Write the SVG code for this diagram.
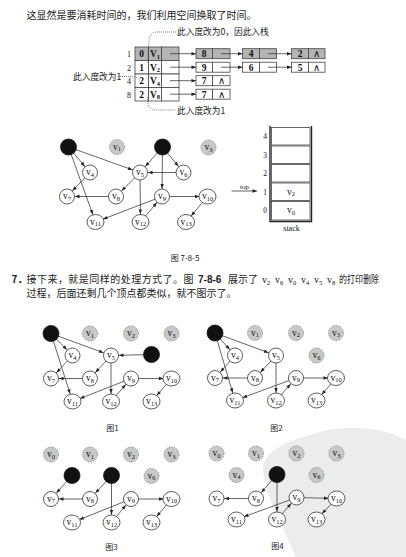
<svg xmlns="http://www.w3.org/2000/svg" width="406" height="557" viewBox="0 0 406 557">
<style>
.cjk{font-family:"Noto Sans CJK SC","Noto Sans CJK TC",sans-serif;fill:#222}
.ser{font-family:"Liberation Serif",serif;fill:#111}
.n{fill:#fff;stroke:#333;stroke-width:0.8}
.b{fill:#111;stroke:#111;stroke-width:0.8}
.g{fill:#c8c8c8;stroke:#777;stroke-width:0.7;stroke-dasharray:1.5 1}
.lbl{font-family:"Liberation Serif",serif;font-size:9.5px;text-anchor:middle;fill:#111}
.sub{font-size:6.5px}
.e{stroke:#333;stroke-width:0.75;fill:none;marker-end:url(#ah)}
.p{stroke:#333;stroke-width:0.75;fill:none;marker-end:url(#at)}
.dot{stroke:#444;stroke-width:0.7;fill:none;stroke-dasharray:1 1}
.cw{fill:#fff;stroke:#444;stroke-width:0.8}
.cg{fill:#b4b4b4;stroke:#444;stroke-width:0.8}
.tt{font-family:"Liberation Serif",serif;font-size:9.5px;text-anchor:middle;fill:#111;font-weight:bold}
.ann{font-family:"Noto Sans CJK SC",sans-serif;font-size:8.7px;fill:#222}
.cap{font-family:"Noto Sans CJK SC",sans-serif;font-size:8px;fill:#222;text-anchor:middle}
</style>
<defs>
<marker id="ah" markerUnits="userSpaceOnUse" markerWidth="10" markerHeight="10" refX="8" refY="0" orient="auto" overflow="visible"><path d="M-4.5,-1.7 L0,0 L-4.5,1.7 Z" fill="#222"/></marker>
<marker id="at" markerUnits="userSpaceOnUse" markerWidth="10" markerHeight="10" refX="0" refY="0" orient="auto" overflow="visible"><path d="M-4.5,-1.7 L0,0 L-4.5,1.7 Z" fill="#222"/></marker>
</defs>
<rect width="406" height="557" fill="#fff"/>
<path d="M263,470 C262,450 290,440 320,432 C350,424 385,428 406,440 L406,557 L296,557 C285,530 266,500 263,470 Z" fill="#ececec"/>

<!-- texts -->
<text class="cjk" x="26.5" y="18.8" font-size="10">这显然是要消耗时间的，我们利用空间换取了时间。</text>

<!-- adjacency list -->
<g id="adjlist">
<g id="row1"><rect class="cg" x="135" y="47" width="13.5" height="13.5"/><rect class="cg" x="148.5" y="47" width="13" height="13.5"/><rect class="cg" x="161.5" y="47" width="17.5" height="13.5"/>
<text class="tt" x="141.7" y="57">0</text><text class="tt" x="155" y="57">V<tspan class="sub" dy="1.5">1</tspan></text><text class="ser" x="131" y="57" font-size="8" text-anchor="end">1</text></g>
<g id="row2"><rect class="cw" x="135" y="60.5" width="13.5" height="13.5"/><rect class="cw" x="148.5" y="60.5" width="13" height="13.5"/><rect class="cw" x="161.5" y="60.5" width="17.5" height="13.5"/>
<text class="tt" x="141.7" y="70.5">1</text><text class="tt" x="155" y="70.5">V<tspan class="sub" dy="1.5">2</tspan></text><text class="ser" x="131" y="70.5" font-size="8" text-anchor="end">2</text></g>
<g id="row3"><rect class="cw" x="135" y="74" width="13.5" height="13.5"/><rect class="cw" x="148.5" y="74" width="13" height="13.5"/><rect class="cw" x="161.5" y="74" width="17.5" height="13.5"/>
<text class="tt" x="141.7" y="84">2</text><text class="tt" x="155" y="84">V<tspan class="sub" dy="1.5">4</tspan></text><text class="ser" x="131" y="84" font-size="8" text-anchor="end">4</text></g>
<g id="row4"><rect class="cw" x="135" y="87.5" width="13.5" height="13.5"/><rect class="cw" x="148.5" y="87.5" width="13" height="13.5"/><rect class="cw" x="161.5" y="87.5" width="17.5" height="13.5"/>
<text class="tt" x="141.7" y="97.5">2</text><text class="tt" x="155" y="97.5">V<tspan class="sub" dy="1.5">8</tspan></text><text class="ser" x="131" y="97.5" font-size="8" text-anchor="end">8</text></g>

<g id="ln-1-8"><rect class="cg" x="196" y="48.7" width="16.5" height="10"/><rect class="cg" x="212.5" y="48.7" width="17.5" height="10"/><text class="tt" x="204.2" y="57">8</text></g>
<g id="ln-1-4"><rect class="cg" x="242.5" y="48.7" width="17" height="10"/><rect class="cg" x="259.5" y="48.7" width="17" height="10"/><text class="tt" x="251" y="57">4</text></g>
<g id="ln-1-2"><rect class="cg" x="291.5" y="48.7" width="17" height="10"/><rect class="cg" x="308.5" y="48.7" width="16.5" height="10"/><text class="tt" x="300" y="57">2</text><text class="ser" x="316.7" y="57" font-size="9.5" text-anchor="middle">∧</text></g>
<g id="ln-2-9"><rect class="cw" x="196" y="62.2" width="16.5" height="10"/><rect class="cw" x="212.5" y="62.2" width="17.5" height="10"/><text class="tt" x="204.2" y="70.5">9</text></g>
<g id="ln-2-6"><rect class="cw" x="242.5" y="62.2" width="17" height="10"/><rect class="cw" x="259.5" y="62.2" width="17" height="10"/><text class="tt" x="251" y="70.5">6</text></g>
<g id="ln-2-5"><rect class="cw" x="291.5" y="62.2" width="17" height="10"/><rect class="cw" x="308.5" y="62.2" width="16.5" height="10"/><text class="tt" x="300" y="70.5">5</text><text class="ser" x="316.7" y="70.5" font-size="9.5" text-anchor="middle">∧</text></g>
<g id="ln-4-7"><rect class="cw" x="196" y="75.7" width="16.5" height="10"/><rect class="cw" x="212.5" y="75.7" width="17.5" height="10"/><text class="tt" x="204.2" y="84">7</text><text class="ser" x="221.2" y="84" font-size="9.5" text-anchor="middle">∧</text></g>
<g id="ln-8-7"><rect class="cw" x="196" y="89.2" width="16.5" height="10"/><rect class="cw" x="212.5" y="89.2" width="17.5" height="10"/><text class="tt" x="204.2" y="97.5">7</text><text class="ser" x="221.2" y="97.5" font-size="9.5" text-anchor="middle">∧</text></g>

<g id="annotations">
<path class="dot" d="M176,32 L158,32 Q149,32 149,41 L147.5,63"/>
<text class="ann" x="177" y="35.3">此入度改为0，因此入栈</text>
<path class="dot" d="M118,76.5 L132,76.5 Q138,77 140,81"/>
<text class="ann" x="73" y="80.3">此入度改为1</text>
<path class="dot" d="M147.5,97 L148,104 Q149,110 157,110 L176,110"/>
<text class="ann" x="177" y="113.8">此入度改为1</text>
</g>
</g>

<!-- stack -->
<g id="stack">
<rect class="cw" x="271.5" y="127.5" width="38.5" height="17.5"/>
<rect class="cw" x="271.5" y="146" width="38.5" height="17.5"/>
<rect class="cw" x="271.5" y="164.5" width="38.5" height="17.5"/>
<rect class="cw" x="271.5" y="183" width="38.5" height="17.5"/>
<rect class="cw" x="271.5" y="201.5" width="38.5" height="18.5"/>
<path d="M270,126 L270,221.5 L311.5,221.5 L311.5,126" fill="none" stroke="#222" stroke-width="1.4"/>
<text class="ser" font-size="7.5" text-anchor="middle" x="265" y="139">4</text>
<text class="ser" font-size="7.5" text-anchor="middle" x="265" y="157.5">3</text>
<text class="ser" font-size="7.5" text-anchor="middle" x="265" y="176">2</text>
<text class="ser" font-size="7.5" text-anchor="middle" x="265" y="194.5">1</text>
<text class="ser" font-size="7.5" text-anchor="middle" x="265" y="213">0</text>
<text class="lbl" x="291" y="194.5">v<tspan class="sub" dy="1.8">2</tspan></text>
<text class="lbl" x="291" y="213">v<tspan class="sub" dy="1.8">0</tspan></text>
<text class="ser" font-size="7" text-anchor="middle" x="244.5" y="188.5">top</text>
<text class="ser" font-size="8" text-anchor="middle" x="291.5" y="231">stack</text>
</g>

<text class="cap" x="185" y="261">图 7-8-5</text>
<text class="cjk" x="11.5" y="283" font-size="10" font-weight="bold">7．</text>
<text class="cjk" x="26.5" y="283" font-size="10" textLength="167" lengthAdjust="spacing">接下来，就是同样的处理方式了。图</text>
<text x="198" y="283" font-family="Liberation Sans,sans-serif" font-size="10" font-weight="bold" fill="#222">7-8-6</text>
<text class="cjk" x="228" y="283" font-size="10">展示了</text>
<text class="ser" x="262" y="283" font-size="10">v<tspan font-size="6.5" dy="1.5">2</tspan></text>
<text class="ser" x="275" y="283" font-size="10">v<tspan font-size="6.5" dy="1.5">6</tspan></text>
<text class="ser" x="288" y="283" font-size="10">v<tspan font-size="6.5" dy="1.5">0</tspan></text>
<text class="ser" x="301" y="283" font-size="10">v<tspan font-size="6.5" dy="1.5">4</tspan></text>
<text class="ser" x="314" y="283" font-size="10">v<tspan font-size="6.5" dy="1.5">5</tspan></text>
<text class="ser" x="327" y="283" font-size="10">v<tspan font-size="6.5" dy="1.5">8</tspan></text>
<text class="cjk" x="339" y="283" font-size="10" textLength="40" lengthAdjust="spacingAndGlyphs">的打印删除</text>
<text class="cjk" x="26.5" y="297" font-size="10">过程，后面还剩几个顶点都类似，就不图示了。</text>
<text class="cap" x="112.5" y="431.3">图1</text>
<text class="cap" x="276.5" y="430.5">图2</text>
<text class="cap" x="111.5" y="549.7">图3</text>
<text class="cap" x="277.5" y="549">图4</text>

<!-- connectors -->
<g id="connectors">
<g id="c-list">
<path class="p" d="M170,53.7 L196,53.7"/><path class="p" d="M221,53.7 L242.5,53.7"/><path class="p" d="M268,53.7 L291.5,53.7"/>
<path class="p" d="M170,67.2 L196,67.2"/><path class="p" d="M221,67.2 L242.5,67.2"/><path class="p" d="M268,67.2 L291.5,67.2"/>
<path class="p" d="M170,80.7 L196,80.7"/>
<path class="p" d="M170,94.2 L196,94.2"/>
<path class="p" d="M231.5,191 L257,191"/>
</g>
<g id="c-785">
<path class="e" d="M68.5,147 L90,172.5"/>
<path class="e" d="M68.5,147 L140,172.5"/>
<path class="e" d="M68.5,147 L95.5,222"/>
<path class="e" d="M90,172.5 L67,196.5"/>
<path class="e" d="M116,196.5 L67,196.5"/>
<path class="e" d="M140,172.5 L116,196.5"/>
<path class="e" d="M140,172.5 L140.5,222"/>
<path class="e" d="M162.5,147 L140,172.5"/>
<path class="e" d="M162.5,147 L183.5,172.5"/>
<path class="e" d="M162.5,147 L162,196.5"/>
<path class="e" d="M183.5,172.5 L140,172.5"/>
<path class="e" d="M162,196.5 L95.5,222"/>
<path class="e" d="M162,196.5 L207.5,196.5"/>
<path class="e" d="M140.5,222 L162,196.5"/>
<path class="e" d="M207.5,196.5 L186,222"/>
</g>
<g id="c-f1">
<path class="e" d="M51,333.5 L72.5,355.5"/>
<path class="e" d="M51,333.5 L111,355.5"/>
<path class="e" d="M51,333.5 L72.5,401.5"/>
<path class="e" d="M72.5,355.5 L51,378.5"/>
<path class="e" d="M90,378.5 L51,378.5"/>
<path class="e" d="M111,355.5 L90,378.5"/>
<path class="e" d="M111,355.5 L111,401.5"/>
<path class="e" d="M151.5,354.5 L111,355.5"/>
<path class="e" d="M131,378.5 L72.5,401.5"/>
<path class="e" d="M131,378.5 L171.5,378.5"/>
<path class="e" d="M111,401.5 L131,378.5"/>
<path class="e" d="M171.5,378.5 L151.5,401.5"/>
</g>
<g id="c-f2">
<path class="e" d="M215,333 L235,355.5"/>
<path class="e" d="M215,333 L276,355.5"/>
<path class="e" d="M215,333 L235,400.5"/>
<path class="e" d="M235,355.5 L215,378"/>
<path class="e" d="M255,378 L215,378"/>
<path class="e" d="M276,355.5 L255,378"/>
<path class="e" d="M276,355.5 L276,400.5"/>
<path class="e" d="M296,378 L235,400.5"/>
<path class="e" d="M296,378 L336,378"/>
<path class="e" d="M276,400.5 L296,378"/>
<path class="e" d="M336,378 L316.5,400.5"/>
</g>
<g id="c-f3">
<path class="e" d="M72,475.5 L51,499"/>
<path class="e" d="M111.5,475.5 L90,499"/>
<path class="e" d="M111.5,475.5 L111.5,522.5"/>
<path class="e" d="M90,499 L51,499"/>
<path class="e" d="M131,499 L72,522.5"/>
<path class="e" d="M131,499 L171.5,499"/>
<path class="e" d="M111.5,522.5 L131,499"/>
<path class="e" d="M171.5,499 L151.5,522.5"/>
</g>
<g id="c-f4">
<path class="e" d="M277,474.5 L256,498.5"/>
<path class="e" d="M277,474.5 L277,519.5"/>
<path class="e" d="M256,498.5 L216.5,498.5"/>
<path class="e" d="M296.5,497.5 L236.5,519.5"/>
<path class="e" d="M296.5,497.5 L336.5,498.5"/>
<path class="e" d="M277,519.5 L296.5,497.5"/>
<path class="e" d="M336.5,498.5 L316.5,519.5"/>
</g>
</g>

<!-- fig 7-8-5 nodes -->
<g id="fig785">
<g id="a-v0"><circle class="b" cx="68.5" cy="147" r="8"/></g>
<g id="a-v1"><circle class="g" cx="117" cy="147" r="7.5"/><text class="lbl" x="117" y="149.5">v<tspan class="sub" dy="1.8">1</tspan></text></g>
<g id="a-v2"><circle class="b" cx="162.5" cy="147" r="8"/></g>
<g id="a-v3"><circle class="g" cx="208.5" cy="147.5" r="7.5"/><text class="lbl" x="208.5" y="150">v<tspan class="sub" dy="1.8">3</tspan></text></g>
<g id="a-v4"><circle class="n" cx="90" cy="172.5" r="7.5"/><text class="lbl" x="90" y="175">v<tspan class="sub" dy="1.8">4</tspan></text></g>
<g id="a-v5"><circle class="n" cx="140" cy="172.5" r="7.5"/><text class="lbl" x="140" y="175">v<tspan class="sub" dy="1.8">5</tspan></text></g>
<g id="a-v6"><circle class="n" cx="183.5" cy="172.5" r="7.5"/><text class="lbl" x="183.5" y="175">v<tspan class="sub" dy="1.8">6</tspan></text></g>
<g id="a-v7"><circle class="n" cx="67" cy="196.5" r="7.5"/><text class="lbl" x="67" y="199">v<tspan class="sub" dy="1.8">7</tspan></text></g>
<g id="a-v8"><circle class="n" cx="116" cy="196.5" r="7.5"/><text class="lbl" x="116" y="199">v<tspan class="sub" dy="1.8">8</tspan></text></g>
<g id="a-v9"><circle class="n" cx="162" cy="196.5" r="7.5"/><text class="lbl" x="162" y="199">v<tspan class="sub" dy="1.8">9</tspan></text></g>
<g id="a-v10"><ellipse class="n" cx="207.5" cy="196.5" rx="8.5" ry="7.5"/><text class="lbl" x="207.5" y="199">v<tspan class="sub" dy="1.8">10</tspan></text></g>
<g id="a-v11"><ellipse class="n" cx="95.5" cy="222" rx="8.5" ry="7.5"/><text class="lbl" x="95.5" y="224.5">v<tspan class="sub" dy="1.8">11</tspan></text></g>
<g id="a-v12"><ellipse class="n" cx="140.5" cy="222" rx="8.5" ry="7.5"/><text class="lbl" x="140.5" y="224.5">v<tspan class="sub" dy="1.8">12</tspan></text></g>
<g id="a-v13"><ellipse class="n" cx="186" cy="222" rx="8.5" ry="7.5"/><text class="lbl" x="186" y="224.5">v<tspan class="sub" dy="1.8">13</tspan></text></g>
</g>

<!-- fig 1 -->
<g id="fig1">
<g id="b-v0"><circle class="b" cx="51" cy="333.5" r="8"/></g>
<g id="b-v1"><circle class="g" cx="90" cy="333.5" r="7.5"/><text class="lbl" x="90" y="336">v<tspan class="sub" dy="1.8">1</tspan></text></g>
<g id="b-v2"><circle class="g" cx="131" cy="333.5" r="7.5"/><text class="lbl" x="131" y="336">v<tspan class="sub" dy="1.8">2</tspan></text></g>
<g id="b-v3"><circle class="g" cx="171.5" cy="333.5" r="7.5"/><text class="lbl" x="171.5" y="336">v<tspan class="sub" dy="1.8">3</tspan></text></g>
<g id="b-v4"><circle class="n" cx="72.5" cy="355.5" r="7.5"/><text class="lbl" x="72.5" y="358">v<tspan class="sub" dy="1.8">4</tspan></text></g>
<g id="b-v5"><circle class="n" cx="111" cy="355.5" r="7.5"/><text class="lbl" x="111" y="358">v<tspan class="sub" dy="1.8">5</tspan></text></g>
<g id="b-v6"><circle class="b" cx="151.5" cy="354.5" r="8"/></g>
<g id="b-v7"><circle class="n" cx="51" cy="378.5" r="7.5"/><text class="lbl" x="51" y="381">v<tspan class="sub" dy="1.8">7</tspan></text></g>
<g id="b-v8"><circle class="n" cx="90" cy="378.5" r="7.5"/><text class="lbl" x="90" y="381">v<tspan class="sub" dy="1.8">8</tspan></text></g>
<g id="b-v9"><circle class="n" cx="131" cy="378.5" r="7.5"/><text class="lbl" x="131" y="381">v<tspan class="sub" dy="1.8">9</tspan></text></g>
<g id="b-v10"><ellipse class="n" cx="171.5" cy="378.5" rx="8.5" ry="7.5"/><text class="lbl" x="171.5" y="381">v<tspan class="sub" dy="1.8">10</tspan></text></g>
<g id="b-v11"><ellipse class="n" cx="72.5" cy="401.5" rx="8.5" ry="7.5"/><text class="lbl" x="72.5" y="404">v<tspan class="sub" dy="1.8">11</tspan></text></g>
<g id="b-v12"><ellipse class="n" cx="111" cy="401.5" rx="8.5" ry="7.5"/><text class="lbl" x="111" y="404">v<tspan class="sub" dy="1.8">12</tspan></text></g>
<g id="b-v13"><ellipse class="n" cx="151.5" cy="401.5" rx="8.5" ry="7.5"/><text class="lbl" x="151.5" y="404">v<tspan class="sub" dy="1.8">13</tspan></text></g>
</g>

<!-- fig 2 -->
<g id="fig2">
<g id="c-v0"><circle class="b" cx="215" cy="333" r="8"/></g>
<g id="c-v1"><circle class="g" cx="255" cy="333" r="7.5"/><text class="lbl" x="255" y="335.5">v<tspan class="sub" dy="1.8">1</tspan></text></g>
<g id="c-v2"><circle class="g" cx="296" cy="333" r="7.5"/><text class="lbl" x="296" y="335.5">v<tspan class="sub" dy="1.8">2</tspan></text></g>
<g id="c-v3"><circle class="g" cx="336" cy="333" r="7.5"/><text class="lbl" x="336" y="335.5">v<tspan class="sub" dy="1.8">3</tspan></text></g>
<g id="c-v4"><circle class="n" cx="235" cy="355.5" r="7.5"/><text class="lbl" x="235" y="358">v<tspan class="sub" dy="1.8">4</tspan></text></g>
<g id="c-v5"><circle class="n" cx="276" cy="355.5" r="7.5"/><text class="lbl" x="276" y="358">v<tspan class="sub" dy="1.8">5</tspan></text></g>
<g id="c-v6"><circle class="g" cx="316.5" cy="355.5" r="7.5"/><text class="lbl" x="316.5" y="358">v<tspan class="sub" dy="1.8">6</tspan></text></g>
<g id="c-v7"><circle class="n" cx="215" cy="378" r="7.5"/><text class="lbl" x="215" y="380.5">v<tspan class="sub" dy="1.8">7</tspan></text></g>
<g id="c-v8"><circle class="n" cx="255" cy="378" r="7.5"/><text class="lbl" x="255" y="380.5">v<tspan class="sub" dy="1.8">8</tspan></text></g>
<g id="c-v9"><circle class="n" cx="296" cy="378" r="7.5"/><text class="lbl" x="296" y="380.5">v<tspan class="sub" dy="1.8">9</tspan></text></g>
<g id="c-v10"><ellipse class="n" cx="336" cy="378" rx="8.5" ry="7.5"/><text class="lbl" x="336" y="380.5">v<tspan class="sub" dy="1.8">10</tspan></text></g>
<g id="c-v11"><ellipse class="n" cx="235" cy="400.5" rx="8.5" ry="7.5"/><text class="lbl" x="235" y="403">v<tspan class="sub" dy="1.8">11</tspan></text></g>
<g id="c-v12"><ellipse class="n" cx="276" cy="400.5" rx="8.5" ry="7.5"/><text class="lbl" x="276" y="403">v<tspan class="sub" dy="1.8">12</tspan></text></g>
<g id="c-v13"><ellipse class="n" cx="316.5" cy="400.5" rx="8.5" ry="7.5"/><text class="lbl" x="316.5" y="403">v<tspan class="sub" dy="1.8">13</tspan></text></g>
</g>

<!-- fig 3 -->
<g id="fig3">
<g id="d-v0"><circle class="g" cx="51" cy="454.5" r="7.5"/><text class="lbl" x="51" y="457">v<tspan class="sub" dy="1.8">0</tspan></text></g>
<g id="d-v1"><circle class="g" cx="90" cy="454.5" r="7.5"/><text class="lbl" x="90" y="457">v<tspan class="sub" dy="1.8">1</tspan></text></g>
<g id="d-v2"><circle class="g" cx="131" cy="454.5" r="7.5"/><text class="lbl" x="131" y="457">v<tspan class="sub" dy="1.8">2</tspan></text></g>
<g id="d-v3"><circle class="g" cx="171.5" cy="454.5" r="7.5"/><text class="lbl" x="171.5" y="457">v<tspan class="sub" dy="1.8">3</tspan></text></g>
<g id="d-v4"><circle class="b" cx="72" cy="475.5" r="8"/></g>
<g id="d-v5"><circle class="b" cx="111.5" cy="475.5" r="8"/></g>
<g id="d-v6"><circle class="g" cx="151.5" cy="476" r="7.5"/><text class="lbl" x="151.5" y="478.5">v<tspan class="sub" dy="1.8">6</tspan></text></g>
<g id="d-v7"><circle class="n" cx="51" cy="499" r="7.5"/><text class="lbl" x="51" y="501.5">v<tspan class="sub" dy="1.8">7</tspan></text></g>
<g id="d-v8"><circle class="n" cx="90" cy="499" r="7.5"/><text class="lbl" x="90" y="501.5">v<tspan class="sub" dy="1.8">8</tspan></text></g>
<g id="d-v9"><circle class="n" cx="131" cy="499" r="7.5"/><text class="lbl" x="131" y="501.5">v<tspan class="sub" dy="1.8">9</tspan></text></g>
<g id="d-v10"><ellipse class="n" cx="171.5" cy="499" rx="8.5" ry="7.5"/><text class="lbl" x="171.5" y="501.5">v<tspan class="sub" dy="1.8">10</tspan></text></g>
<g id="d-v11"><ellipse class="n" cx="72" cy="522.5" rx="8.5" ry="7.5"/><text class="lbl" x="72" y="525">v<tspan class="sub" dy="1.8">11</tspan></text></g>
<g id="d-v12"><ellipse class="n" cx="111.5" cy="522.5" rx="8.5" ry="7.5"/><text class="lbl" x="111.5" y="525">v<tspan class="sub" dy="1.8">12</tspan></text></g>
<g id="d-v13"><ellipse class="n" cx="151.5" cy="522.5" rx="8.5" ry="7.5"/><text class="lbl" x="151.5" y="525">v<tspan class="sub" dy="1.8">13</tspan></text></g>
</g>

<!-- fig 4 -->
<g id="fig4">
<g id="e-v0"><circle class="g" cx="216.5" cy="453.5" r="7.5"/><text class="lbl" x="216.5" y="456">v<tspan class="sub" dy="1.8">0</tspan></text></g>
<g id="e-v1"><circle class="g" cx="256" cy="453.5" r="7.5"/><text class="lbl" x="256" y="456">v<tspan class="sub" dy="1.8">1</tspan></text></g>
<g id="e-v2"><circle class="g" cx="296.5" cy="453.5" r="7.5"/><text class="lbl" x="296.5" y="456">v<tspan class="sub" dy="1.8">2</tspan></text></g>
<g id="e-v3"><circle class="g" cx="336.5" cy="453.5" r="7.5"/><text class="lbl" x="336.5" y="456">v<tspan class="sub" dy="1.8">3</tspan></text></g>
<g id="e-v4"><circle class="g" cx="236.5" cy="475" r="7.5"/><text class="lbl" x="236.5" y="477.5">v<tspan class="sub" dy="1.8">4</tspan></text></g>
<g id="e-v5"><circle class="b" cx="277" cy="474.5" r="8"/></g>
<g id="e-v6"><circle class="g" cx="316.5" cy="475" r="7.5"/><text class="lbl" x="316.5" y="477.5">v<tspan class="sub" dy="1.8">6</tspan></text></g>
<g id="e-v7"><circle class="n" cx="216.5" cy="498.5" r="7.5"/><text class="lbl" x="216.5" y="501">v<tspan class="sub" dy="1.8">7</tspan></text></g>
<g id="e-v8"><circle class="n" cx="256" cy="498.5" r="7.5"/><text class="lbl" x="256" y="501">v<tspan class="sub" dy="1.8">8</tspan></text></g>
<g id="e-v9"><circle class="n" cx="296.5" cy="497.5" r="7.5"/><text class="lbl" x="296.5" y="500">v<tspan class="sub" dy="1.8">9</tspan></text></g>
<g id="e-v10"><ellipse class="n" cx="336.5" cy="498.5" rx="8.5" ry="7.5"/><text class="lbl" x="336.5" y="501">v<tspan class="sub" dy="1.8">10</tspan></text></g>
<g id="e-v11"><ellipse class="n" cx="236.5" cy="519.5" rx="8.5" ry="7.5"/><text class="lbl" x="236.5" y="522">v<tspan class="sub" dy="1.8">11</tspan></text></g>
<g id="e-v12"><ellipse class="n" cx="277" cy="519.5" rx="8.5" ry="7.5"/><text class="lbl" x="277" y="522">v<tspan class="sub" dy="1.8">12</tspan></text></g>
<g id="e-v13"><ellipse class="n" cx="316.5" cy="519.5" rx="8.5" ry="7.5"/><text class="lbl" x="316.5" y="522">v<tspan class="sub" dy="1.8">13</tspan></text></g>
</g>
</svg>
